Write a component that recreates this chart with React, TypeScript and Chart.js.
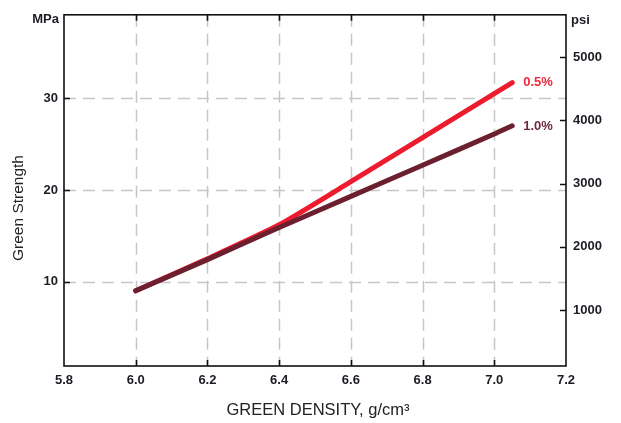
import React, { useEffect, useRef } from "react";
import { Chart, registerables } from "chart.js";

Chart.register(...registerables);

const density = [6.0, 6.2, 6.4, 6.6, 6.8, 7.0, 7.05];
const strengthHalf = [9.0, 12.5, 16.2, 20.9, 25.7, 30.5, 31.7];
const strengthOne = [9.0, 12.4, 15.9, 19.3, 22.7, 26.1, 27.0];
const seriesLabels = ["1.0%", "0.5%"];
const xTicks = [5.8, 6.0, 6.2, 6.4, 6.6, 6.8, 7.0, 7.2];
const yTicks = [10, 20, 30];
const psiTicks = [1000, 2000, 3000, 4000, 5000];
const PSI_PER_MPA = 145.04;
const X_MIN = 5.8, X_MAX = 7.2, Y_MIN = 0.8, Y_MAX = 39.1;
const yUnit = "MPa";
const psiUnit = "psi";
const yTitle = "Green Strength";
const xTitle = "GREEN DENSITY, g/cm³";

const RED = "#ec1c2e";
const MAROON = "#6b1f2f";
const TEXT = "#1c1c24";
const FONT = "'Liberation Sans', Arial, sans-serif";

const decorPlugin = {
  id: "decor",
  beforeDatasetsDraw(chart: any) {
    const { ctx, chartArea: a, scales } = chart;
    ctx.save();
    ctx.strokeStyle = "#c6c6c6";
    ctx.lineWidth = 1.5;
    ctx.setLineDash([12, 7]);
    xTicks.forEach((v) => {
      if (v <= X_MIN || v >= X_MAX) return;
      const x = Math.round(scales.x.getPixelForValue(v)) + 0.5;
      ctx.beginPath();
      ctx.moveTo(x, a.top);
      ctx.lineTo(x, a.bottom);
      ctx.stroke();
    });
    yTicks.forEach((v) => {
      const y = Math.round(scales.y.getPixelForValue(v)) + 0.5;
      ctx.beginPath();
      ctx.moveTo(a.left, y);
      ctx.lineTo(a.right, y);
      ctx.stroke();
    });
    ctx.restore();
  },
  afterDraw(chart: any) {
    const { ctx, chartArea: a, scales } = chart;
    ctx.save();
    ctx.setLineDash([]);
    ctx.strokeStyle = "#111";
    ctx.lineWidth = 1.6;
    ctx.strokeRect(a.left, a.top, a.right - a.left, a.bottom - a.top);
    const T = 6;
    ctx.beginPath();
    xTicks.forEach((v) => {
      if (v <= X_MIN || v >= X_MAX) return;
      const x = Math.round(scales.x.getPixelForValue(v)) + 0.5;
      ctx.moveTo(x, a.top);
      ctx.lineTo(x, a.top + T);
      ctx.moveTo(x, a.bottom);
      ctx.lineTo(x, a.bottom - T);
    });
    yTicks.forEach((v) => {
      const y = Math.round(scales.y.getPixelForValue(v)) + 0.5;
      ctx.moveTo(a.left, y);
      ctx.lineTo(a.left + T, y);
    });
    psiTicks.forEach((v) => {
      const y = Math.round(scales.y2.getPixelForValue(v)) + 0.5;
      ctx.moveTo(a.right, y);
      ctx.lineTo(a.right - T, y);
    });
    ctx.stroke();

    ctx.fillStyle = TEXT;
    ctx.font = `bold 13px ${FONT}`;
    ctx.textBaseline = "middle";
    ctx.textAlign = "right";
    ctx.fillText(yUnit, a.left - 5, a.top + 5);
    ctx.textAlign = "left";
    ctx.fillText(psiUnit, a.right + 5, a.top + 6);

    // series end labels
    chart.data.datasets.forEach((ds: any, i: number) => {
      const meta = chart.getDatasetMeta(i);
      const last = meta.data[meta.data.length - 1];
      ctx.fillStyle = i === 1 ? "#ee2a3c" : "#6e2a3c";
      ctx.textAlign = "left";
      ctx.fillText(seriesLabels[i], last.x + 11, last.y + (i === 0 ? 1 : 0));
    });

    // axis titles
    ctx.fillStyle = "#222";
    ctx.font = `15.5px ${FONT}`;
    ctx.save();
    ctx.translate(19, 208);
    ctx.rotate(-Math.PI / 2);
    ctx.textAlign = "center";
    ctx.fillText(yTitle, 0, 0);
    ctx.restore();
    ctx.font = `16.5px ${FONT}`;
    ctx.textAlign = "center";
    ctx.fillText(xTitle, (a.left + a.right) / 2 + 3, 410);
    ctx.restore();
  },
};

export default function App() {
  const ref = useRef<HTMLCanvasElement>(null);
  useEffect(() => {
    document.body.style.margin = "0";
    const tickFont = { family: FONT, size: 13, weight: "bold" as const };
    const chart = new Chart(ref.current!, {
      type: "line",
      data: {
        datasets: [
          {
            label: seriesLabels[0],
            data: density.map((x, i) => ({ x, y: strengthOne[i] })),
            borderColor: MAROON,
            borderWidth: 5,
            borderCapStyle: "round",
            borderJoinStyle: "round",
            pointRadius: 0,
            tension: 0.2,
          },
          {
            label: seriesLabels[1],
            data: density.map((x, i) => ({ x, y: strengthHalf[i] })),
            borderColor: RED,
            borderWidth: 5,
            borderCapStyle: "round",
            borderJoinStyle: "round",
            pointRadius: 0,
            tension: 0.2,
          },
        ],
      },
      options: {
        animation: false,
        responsive: false,
        layout: { padding: { top: 11, left: 0, right: 0, bottom: 0 } },
        plugins: { legend: { display: false }, tooltip: { enabled: false } },
        scales: {
          x: {
            type: "linear",
            position: "bottom",
            min: X_MIN,
            max: X_MAX,
            afterBuildTicks: (s: any) => {
              s.ticks = xTicks.map((v) => ({ value: v }));
            },
            afterFit: (s: any) => {
              s.height = 57;
            },
            ticks: {
              font: tickFont,
              color: TEXT,
              padding: 7,
              maxRotation: 0,
              autoSkip: false,
              callback: (v: any) => Number(v).toFixed(1),
            },
            grid: { display: false, drawTicks: false },
            border: { display: false },
          },
          y: {
            type: "linear",
            position: "left",
            min: Y_MIN,
            max: Y_MAX,
            afterBuildTicks: (s: any) => {
              s.ticks = yTicks.map((v) => ({ value: v }));
            },
            afterFit: (s: any) => {
              s.width = 64;
            },
            ticks: { font: tickFont, color: TEXT, padding: 6 },
            grid: { display: false, drawTicks: false },
            border: { display: false },
          },
          y2: {
            type: "linear",
            position: "right",
            min: Y_MIN * PSI_PER_MPA,
            max: Y_MAX * PSI_PER_MPA,
            afterBuildTicks: (s: any) => {
              s.ticks = psiTicks.map((v) => ({ value: v }));
            },
            afterFit: (s: any) => {
              s.width = 55;
            },
            ticks: { font: tickFont, color: TEXT, padding: 7, callback: (v: any) => String(v) },
            grid: { display: false, drawTicks: false },
            border: { display: false },
          },
        },
      },
      plugins: [decorPlugin],
    } as any);
    return () => chart.destroy();
  }, []);
  return (
    <div style={{ position: "absolute", left: 0, top: 0, width: 621, height: 423, background: "#fff" }}>
      <canvas ref={ref} width={621} height={423} />
    </div>
  );
}
